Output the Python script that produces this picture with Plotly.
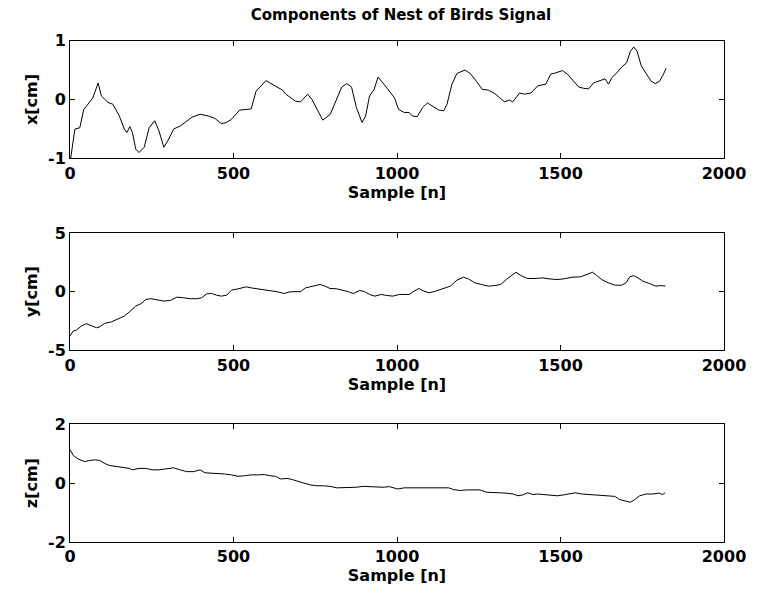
import plotly.graph_objects as go

# ---- data ----
x_n = [2, 15, 30, 42, 55, 70, 86, 96, 116, 131, 151, 166, 174, 183, 191, 201, 211, 227, 242, 259,
       272, 287, 302, 317, 337, 352, 373, 398, 423, 443, 463, 478, 493, 519, 539, 554, 569, 584, 599, 624,
       650, 660, 690, 705, 727, 740, 755, 773, 796, 814, 831, 846, 861, 876, 893, 904, 916, 930, 942, 957,
       977, 992, 1005, 1022, 1037, 1047, 1062, 1078, 1093, 1108, 1128, 1143, 1153, 1168, 1183, 1208, 1224, 1244, 1261, 1279,
       1299, 1314, 1329, 1344, 1354, 1375, 1390, 1410, 1430, 1455, 1470, 1485, 1506, 1521, 1541, 1556, 1571, 1586, 1601, 1619,
       1636, 1647, 1657, 1672, 1687, 1702, 1714, 1724, 1734, 1747, 1762, 1777, 1790, 1803, 1815, 1823]
x_cm = [-1.0, -0.50, -0.48, -0.17, -0.08, 0.03, 0.28, 0.06, -0.05, -0.08, -0.28, -0.50, -0.56, -0.46, -0.56, -0.84, -0.90, -0.81, -0.48, -0.36,
        -0.53, -0.81, -0.67, -0.50, -0.45, -0.39, -0.30, -0.25, -0.28, -0.32, -0.41, -0.39, -0.34, -0.18, -0.17, -0.16, 0.14, 0.23, 0.32, 0.24,
        0.16, 0.09, -0.03, -0.04, 0.09, 0.0, -0.17, -0.35, -0.25, 0.0, 0.21, 0.27, 0.21, -0.14, -0.39, -0.28, 0.06, 0.17, 0.38, 0.28,
        0.14, 0.03, -0.17, -0.22, -0.22, -0.28, -0.29, -0.14, -0.06, -0.11, -0.18, -0.19, -0.08, 0.26, 0.44, 0.50, 0.44, 0.30, 0.17, 0.16,
        0.10, 0.03, -0.04, -0.01, -0.04, 0.11, 0.09, 0.11, 0.23, 0.26, 0.43, 0.45, 0.49, 0.43, 0.31, 0.21, 0.19, 0.18, 0.28, 0.32,
        0.35, 0.26, 0.37, 0.45, 0.55, 0.62, 0.82, 0.89, 0.82, 0.57, 0.45, 0.31, 0.27, 0.31, 0.43, 0.53]

y_n = [0, 10, 20, 35, 50, 65, 81, 91, 106, 126, 146, 166, 181, 201, 217, 232, 247, 267, 287, 307,
       327, 347, 368, 388, 403, 418, 433, 448, 463, 479, 494, 514, 539, 554, 574, 594, 614, 634, 655, 670,
       685, 705, 720, 740, 765, 780, 795, 816, 836, 851, 866, 886, 901, 916, 932, 952, 967, 987, 1007, 1037,
       1052, 1067, 1077, 1098, 1118, 1143, 1163, 1183, 1203, 1218, 1238, 1258, 1279, 1299, 1317, 1334, 1349, 1364, 1379, 1399,
       1419, 1445, 1465, 1490, 1510, 1535, 1561, 1581, 1598, 1611, 1626, 1646, 1667, 1687, 1700, 1712, 1724, 1737, 1752, 1772,
       1792, 1808, 1821]
y_cm = [-3.77, -3.35, -3.27, -2.92, -2.73, -2.87, -3.07, -3.0, -2.7, -2.58, -2.3, -2.08, -1.74, -1.23, -1.03, -0.66, -0.6, -0.72, -0.8, -0.75,
        -0.47, -0.52, -0.6, -0.6, -0.52, -0.18, -0.16, -0.3, -0.38, -0.3, 0.13, 0.24, 0.41, 0.32, 0.24, 0.1, 0.04, -0.01, -0.16, -0.03,
        0.0, 0.0, 0.32, 0.47, 0.61, 0.47, 0.27, 0.24, 0.13, 0.0, -0.16, 0.1, 0.0, -0.24, -0.38, -0.24, -0.32, -0.38, -0.24, -0.24,
        0.04, 0.27, 0.1, -0.1, 0.04, 0.27, 0.47, 0.97, 1.23, 1.09, 0.75, 0.61, 0.47, 0.52, 0.61, 1.03, 1.37, 1.65, 1.37, 1.12,
        1.12, 1.17, 1.09, 1.03, 1.09, 1.23, 1.26, 1.45, 1.65, 1.37, 1.03, 0.75, 0.55, 0.55, 0.75, 1.26, 1.37, 1.17, 0.89, 0.69,
        0.47, 0.52, 0.47]

z_n = [0, 10, 25, 45, 60, 76, 91, 106, 121, 141, 161, 181, 191, 211, 232, 252, 272, 292, 317, 337,
       357, 378, 398, 413, 433, 453, 473, 494, 514, 534, 554, 574, 594, 614, 629, 644, 664, 680, 695, 715,
       735, 755, 775, 795, 816, 836, 856, 876, 896, 916, 937, 957, 977, 1002, 1022, 1047, 1067, 1098, 1118, 1138,
       1158, 1173, 1193, 1213, 1233, 1254, 1274, 1294, 1314, 1334, 1355, 1370, 1385, 1400, 1415, 1430, 1450, 1470, 1490, 1510,
       1530, 1545, 1565, 1585, 1605, 1626, 1646, 1666, 1681, 1697, 1714, 1727, 1742, 1762, 1782, 1802, 1812, 1820]
z_cm = [1.14, 0.94, 0.82, 0.73, 0.77, 0.79, 0.77, 0.67, 0.6, 0.57, 0.54, 0.5, 0.45, 0.5, 0.5, 0.45, 0.45, 0.48, 0.52, 0.45,
        0.39, 0.39, 0.45, 0.35, 0.34, 0.31, 0.31, 0.28, 0.23, 0.25, 0.28, 0.28, 0.29, 0.25, 0.23, 0.14, 0.16, 0.12, 0.06, 0.0,
        -0.06, -0.09, -0.09, -0.11, -0.16, -0.16, -0.14, -0.14, -0.11, -0.12, -0.11, -0.14, -0.12, -0.2, -0.16, -0.16, -0.18, -0.18, -0.16, -0.16,
        -0.16, -0.22, -0.25, -0.23, -0.22, -0.23, -0.31, -0.33, -0.33, -0.34, -0.37, -0.43, -0.4, -0.33, -0.39, -0.37, -0.39, -0.4, -0.43, -0.4,
        -0.37, -0.33, -0.37, -0.39, -0.4, -0.43, -0.43, -0.45, -0.56, -0.6, -0.65, -0.56, -0.43, -0.37, -0.37, -0.34, -0.39, -0.33]

x_ticks = [0, 500, 1000, 1500, 2000]
panels = [
    (x_n, x_cm, "x[cm]", [-1, 0, 1], [0.764, 0.999]),
    (y_n, y_cm, "y[cm]", [-5, 0, 5], [0.3817, 0.6157]),
    (z_n, z_cm, "z[cm]", [-2, 0, 2], [0.0, 0.2346]),
]

FONT = "DejaVu Sans, Arial, sans-serif"
fig = go.Figure()
layout = dict(
    width=758, height=598,
    margin=dict(l=70, r=26, t=40, b=56),
    paper_bgcolor="white", plot_bgcolor="white",
    showlegend=False,
    font=dict(family=FONT, color="black"),
    title=dict(text="<b>Components of Nest of Birds Signal</b>", x=0.529, xanchor="center",
               y=0.975, yanchor="middle", font=dict(size=15, family=FONT, color="black")),
)
for i, (xs, ys, label, yt, dom) in enumerate(panels):
    k = "" if i == 0 else str(i + 1)
    fig.add_trace(go.Scatter(x=xs, y=ys, mode="lines", line=dict(color="black", width=1),
                             xaxis="x" + k, yaxis="y" + k, hoverinfo="skip"))
    layout["xaxis" + k] = dict(
        domain=[0, 1], anchor="y" + k, range=[0, 2000], tickvals=x_ticks,
        ticktext=["<b>%d</b>" % t for t in x_ticks],
        ticks="inside", ticklen=5, tickcolor="black", mirror="ticks", showline=True,
        linecolor="black", linewidth=1, showgrid=False, zeroline=False,
        tickfont=dict(size=16, family=FONT, color="black"),
        title=dict(text="<b>Sample [n]</b>", font=dict(size=16, family=FONT, color="black"), standoff=2),
    )
    layout["yaxis" + k] = dict(
        domain=dom, anchor="x" + k, range=[yt[0], yt[-1]], tickvals=yt,
        ticktext=["<b>%d</b>" % t for t in yt],
        ticks="inside", ticklen=5, tickcolor="black", mirror="ticks", showline=True,
        linecolor="black", linewidth=1, showgrid=False, zeroline=False,
        tickfont=dict(size=16, family=FONT, color="black"),
        title=dict(text="<b>%s</b>" % label, font=dict(size=16, family=FONT, color="black"), standoff=6),
    )
fig.update_layout(**layout)
fig.write_html("out.html")
